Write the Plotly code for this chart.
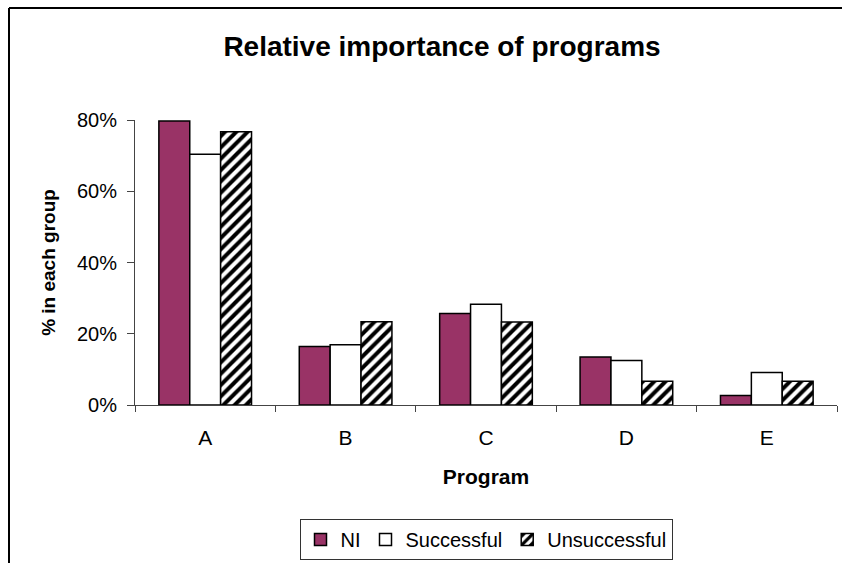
import plotly.graph_objects as go

# Share of each group that rated each program as important
programs = ["A", "B", "C", "D", "E"]
ni = [0.797, 0.164, 0.257, 0.135, 0.027]
successful = [0.704, 0.169, 0.283, 0.125, 0.091]
unsuccessful = [0.767, 0.234, 0.233, 0.067, 0.067]

FONT = "Liberation Sans, Arial, sans-serif"
outline = dict(color="black", width=1.5)

fig = go.Figure()
fig.add_trace(go.Bar(
    name="NI", x=programs, y=ni,
    marker=dict(color="#993366", line=outline),
))
fig.add_trace(go.Bar(
    name="Successful", x=programs, y=successful,
    marker=dict(color="white", line=outline),
))
fig.add_trace(go.Bar(
    name="Unsuccessful", x=programs, y=unsuccessful,
    marker=dict(
        color="white", line=outline,
        pattern=dict(shape="/", fgcolor="black", bgcolor="white",
                     size=8, solidity=0.5, fillmode="replace"),
    ),
))

# plot area spans x 135..837 px and y 120..405 px of the page
PW, PH = 702, 285
top_y = (563 - 8 - 158) / PH
left_x = -126 / PW

fig.update_layout(
    width=842, height=563,
    margin=dict(l=135, r=5, t=120, b=158, autoexpand=False),
    paper_bgcolor="white", plot_bgcolor="white",
    barmode="group", bargap=0.34, bargroupgap=0,
    font=dict(family=FONT, size=20, color="black"),
    title=dict(text="<b>Relative importance of programs</b>",
               font=dict(size=28, family=FONT, color="black"),
               x=442 / 842, xref="container", xanchor="center",
               y=1 - 46 / 563, yref="container", yanchor="middle"),
    showlegend=True,
    legend=dict(orientation="h", x=0.5, xanchor="center",
                y=-0.40, yanchor="top",
                bordercolor="#333", borderwidth=1, bgcolor="white",
                font=dict(size=20, family=FONT),
                tracegroupgap=0),
    xaxis=dict(
        showline=True, linecolor="#444", linewidth=1,
        ticks="outside", tickson="boundaries", ticklen=6, tickcolor="#444",
        ticklabelstandoff=14, tickfont=dict(size=21),
        title=dict(text="<b>Program</b>", font=dict(size=21), standoff=21),
        showgrid=False, zeroline=False,
    ),
    yaxis=dict(
        range=[0, 0.8], tickvals=[0, 0.2, 0.4, 0.6, 0.8],
        tickformat=".0%",
        showline=True, linecolor="#444", linewidth=1,
        ticks="outside", ticklen=7, tickcolor="#444",
        ticklabelstandoff=6, tickfont=dict(size=20),
        title=dict(text="<b>% in each group</b>", font=dict(size=19), standoff=16),
        showgrid=False, zeroline=False,
    ),
    shapes=[
        # frame around the chart area: top and left edges
        dict(type="line", xref="paper", yref="paper",
             x0=left_x, x1=1.01, y0=top_y, y1=top_y,
             line=dict(color="black", width=2)),
        dict(type="line", xref="paper", yref="paper",
             x0=left_x, x1=left_x, y0=-0.56, y1=top_y,
             line=dict(color="black", width=2)),
    ],
)

fig.write_html("out.html")
